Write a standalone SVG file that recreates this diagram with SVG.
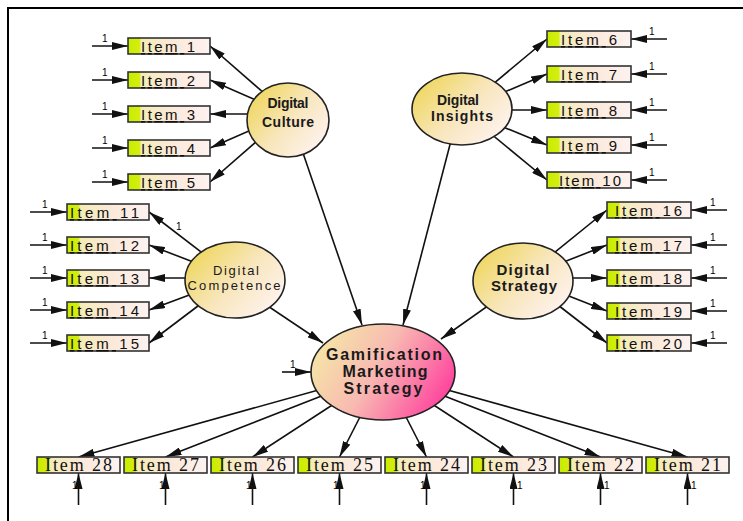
<svg xmlns="http://www.w3.org/2000/svg" width="743" height="521" viewBox="0 0 743 521">
<defs>
 <linearGradient id="gItem" x1="0" y1="0" x2="1" y2="0">
  <stop offset="0" stop-color="#c8ec00"/>
  <stop offset="0.14" stop-color="#d4ee10"/>
  <stop offset="0.16" stop-color="#f4ecb6"/>
  <stop offset="0.55" stop-color="#fbe9da"/>
  <stop offset="1" stop-color="#fdf2f0"/>
 </linearGradient>
 <linearGradient id="gLat" x1="0.05" y1="0.2" x2="0.95" y2="0.85">
  <stop offset="0" stop-color="#efd760"/>
  <stop offset="0.5" stop-color="#f8e6bc"/>
  <stop offset="1" stop-color="#fff3f1"/>
 </linearGradient>
 <linearGradient id="gGMS" x1="0" y1="0.3" x2="1" y2="0.7">
  <stop offset="0" stop-color="#f5e7a6"/>
  <stop offset="0.45" stop-color="#f8b9b2"/>
  <stop offset="1" stop-color="#ff3d9c"/>
 </linearGradient>
 <marker id="ah" viewBox="0 0 16 8" refX="16" refY="4" markerWidth="16" markerHeight="8" markerUnits="userSpaceOnUse" orient="auto">
  <path d="M0,0 L16,4 L0,8 z" fill="#111"/>
 </marker>
</defs>
<style>
 .item rect {fill:url(#gItem); stroke:#333; stroke-width:1.6}
 .it {font-family:"Liberation Sans",Arial,sans-serif; font-size:15px; fill:#111}
 .ib {font-family:"Liberation Serif","Times New Roman",serif; font-size:18px; fill:#111}
 .lat ellipse {fill:url(#gLat); stroke:#222; stroke-width:1.6}
 .gms ellipse {fill:url(#gGMS); stroke:#222; stroke-width:1.6}
 .lt {font-family:"Liberation Sans",Arial,sans-serif; font-weight:bold; fill:#1a1a1a; text-anchor:middle}
 .lt.reg {font-weight:normal}
 .one {font-family:"Liberation Sans",Arial,sans-serif; font-size:10px; fill:#000}
 .c line {stroke:#111; stroke-width:1.6; fill:none; marker-end:url(#ah)}
</style>
<rect x="8" y="8" width="760" height="540" fill="#fff" stroke="#000" stroke-width="2"/>

<g id="connectors" class="c">
 <line x1="288" y1="114" x2="210" y2="46"/>
 <line x1="288" y1="114" x2="210" y2="80"/>
 <line x1="288" y1="114" x2="210" y2="114"/>
 <line x1="288" y1="114" x2="210" y2="148"/>
 <line x1="288" y1="114" x2="210" y2="182"/>
 <line x1="462" y1="110" x2="547" y2="39"/>
 <line x1="462" y1="110" x2="547" y2="74"/>
 <line x1="462" y1="110" x2="547" y2="110"/>
 <line x1="462" y1="110" x2="547" y2="145"/>
 <line x1="462" y1="110" x2="547" y2="180"/>
 <line x1="235" y1="278" x2="149" y2="212"/>
 <line x1="235" y1="278" x2="149" y2="245"/>
 <line x1="235" y1="278" x2="149" y2="278"/>
 <line x1="235" y1="278" x2="149" y2="310"/>
 <line x1="235" y1="278" x2="149" y2="343"/>
 <line x1="523" y1="278" x2="607" y2="210"/>
 <line x1="523" y1="278" x2="607" y2="245"/>
 <line x1="523" y1="278" x2="607" y2="278"/>
 <line x1="523" y1="278" x2="607" y2="311"/>
 <line x1="523" y1="278" x2="607" y2="343"/>
 <line x1="292" y1="121" x2="362" y2="325"/>
 <line x1="459" y1="110" x2="403" y2="325"/>
 <line x1="235" y1="284" x2="323" y2="343"/>
 <line x1="523" y1="281" x2="441" y2="339"/>
 <line x1="383" y1="372" x2="78.5" y2="457"/>
 <line x1="383" y1="372" x2="165.5" y2="457"/>
 <line x1="383" y1="372" x2="252.5" y2="457"/>
 <line x1="383" y1="372" x2="339.5" y2="457"/>
 <line x1="383" y1="372" x2="426.5" y2="457"/>
 <line x1="383" y1="372" x2="513.5" y2="457"/>
 <line x1="383" y1="372" x2="600.5" y2="457"/>
 <line x1="383" y1="372" x2="687.5" y2="457"/>
 <line x1="92" y1="46" x2="128" y2="46"/>
 <line x1="92" y1="80" x2="128" y2="80"/>
 <line x1="92" y1="114" x2="128" y2="114"/>
 <line x1="92" y1="148" x2="128" y2="148"/>
 <line x1="92" y1="182" x2="128" y2="182"/>
 <line x1="667" y1="39" x2="631" y2="39"/>
 <line x1="667" y1="74" x2="631" y2="74"/>
 <line x1="667" y1="110" x2="631" y2="110"/>
 <line x1="667" y1="145" x2="631" y2="145"/>
 <line x1="667" y1="180" x2="631" y2="180"/>
 <line x1="30" y1="212" x2="67" y2="212"/>
 <line x1="30" y1="245" x2="67" y2="245"/>
 <line x1="30" y1="278" x2="67" y2="278"/>
 <line x1="30" y1="310" x2="67" y2="310"/>
 <line x1="30" y1="343" x2="67" y2="343"/>
 <line x1="727" y1="210" x2="691" y2="210"/>
 <line x1="727" y1="245" x2="691" y2="245"/>
 <line x1="727" y1="278" x2="691" y2="278"/>
 <line x1="727" y1="311" x2="691" y2="311"/>
 <line x1="727" y1="343" x2="691" y2="343"/>
 <line x1="282" y1="372" x2="311" y2="372"/>
 <line x1="78.5" y1="505" x2="78.5" y2="473"/>
 <line x1="165.5" y1="505" x2="165.5" y2="473"/>
 <line x1="252.5" y1="505" x2="252.5" y2="473"/>
 <line x1="339.5" y1="505" x2="339.5" y2="473"/>
 <line x1="426.5" y1="505" x2="426.5" y2="473"/>
 <line x1="513.5" y1="505" x2="513.5" y2="473"/>
 <line x1="600.5" y1="505" x2="600.5" y2="473"/>
 <line x1="687.5" y1="505" x2="687.5" y2="473"/>
</g>

<g id="weights" class="one">
 <text x="102" y="42">1</text><text x="102" y="76">1</text><text x="102" y="110">1</text><text x="102" y="144">1</text><text x="102" y="178">1</text>
 <text x="649" y="35">1</text><text x="649" y="70">1</text><text x="649" y="106">1</text><text x="649" y="141">1</text><text x="649" y="176">1</text>
 <text x="42" y="208">1</text><text x="42" y="241">1</text><text x="42" y="274">1</text><text x="42" y="306">1</text><text x="42" y="339">1</text>
 <text x="710" y="206">1</text><text x="710" y="241">1</text><text x="710" y="274">1</text><text x="710" y="307">1</text><text x="710" y="339">1</text>
 <text x="176" y="230">1</text>
 <text x="290" y="368">1</text>
 <text x="72" y="489">1</text><text x="159" y="489">1</text><text x="246" y="489">1</text><text x="333" y="489">1</text><text x="420" y="489">1</text>
 <text x="517" y="489">1</text><text x="604" y="489">1</text><text x="691" y="489">1</text>
</g>

<g id="item1" class="item"><rect x="128" y="38" width="82" height="16"/><text class="it" x="141" y="52" textLength="54" lengthAdjust="spacing"><tspan text-decoration="underline">Item </tspan>1</text></g>
<g id="item2" class="item"><rect x="128" y="72" width="82" height="16"/><text class="it" x="141" y="86" textLength="54" lengthAdjust="spacing"><tspan text-decoration="underline">Item </tspan>2</text></g>
<g id="item3" class="item"><rect x="128" y="106" width="82" height="16"/><text class="it" x="141" y="120" textLength="54" lengthAdjust="spacing"><tspan text-decoration="underline">Item </tspan>3</text></g>
<g id="item4" class="item"><rect x="128" y="140" width="82" height="16"/><text class="it" x="141" y="154" textLength="54" lengthAdjust="spacing"><tspan text-decoration="underline">Item </tspan>4</text></g>
<g id="item5" class="item"><rect x="128" y="174" width="82" height="16"/><text class="it" x="141" y="188" textLength="54" lengthAdjust="spacing"><tspan text-decoration="underline">Item </tspan>5</text></g>

<g id="item6" class="item"><rect x="547" y="31" width="84" height="16"/><text class="it" x="561" y="45" textLength="56" lengthAdjust="spacing"><tspan text-decoration="underline">Item </tspan>6</text></g>
<g id="item7" class="item"><rect x="547" y="66" width="84" height="16"/><text class="it" x="561" y="80" textLength="56" lengthAdjust="spacing"><tspan text-decoration="underline">Item </tspan>7</text></g>
<g id="item8" class="item"><rect x="547" y="102" width="84" height="16"/><text class="it" x="561" y="116" textLength="56" lengthAdjust="spacing"><tspan text-decoration="underline">Item </tspan>8</text></g>
<g id="item9" class="item"><rect x="547" y="137" width="84" height="16"/><text class="it" x="561" y="151" textLength="56" lengthAdjust="spacing"><tspan text-decoration="underline">Item </tspan>9</text></g>
<g id="item10" class="item"><rect x="547" y="172" width="84" height="16"/><text class="it" x="559" y="186" textLength="62" lengthAdjust="spacing"><tspan text-decoration="underline">Item </tspan>10</text></g>

<g id="item11" class="item"><rect x="67" y="204" width="82" height="16"/><text class="it" x="70" y="218" textLength="69" lengthAdjust="spacing"><tspan text-decoration="underline">Item </tspan>11</text></g>
<g id="item12" class="item"><rect x="67" y="237" width="82" height="16"/><text class="it" x="70" y="251" textLength="69" lengthAdjust="spacing"><tspan text-decoration="underline">Item </tspan>12</text></g>
<g id="item13" class="item"><rect x="67" y="270" width="82" height="16"/><text class="it" x="70" y="284" textLength="69" lengthAdjust="spacing"><tspan text-decoration="underline">Item </tspan>13</text></g>
<g id="item14" class="item"><rect x="67" y="302" width="82" height="16"/><text class="it" x="70" y="316" textLength="69" lengthAdjust="spacing"><tspan text-decoration="underline">Item </tspan>14</text></g>
<g id="item15" class="item"><rect x="67" y="335" width="82" height="16"/><text class="it" x="70" y="349" textLength="69" lengthAdjust="spacing"><tspan text-decoration="underline">Item </tspan>15</text></g>

<g id="item16" class="item"><rect x="607" y="202" width="84" height="16"/><text class="it" x="615" y="216" textLength="67" lengthAdjust="spacing"><tspan text-decoration="underline">Item </tspan>16</text></g>
<g id="item17" class="item"><rect x="607" y="237" width="84" height="16"/><text class="it" x="615" y="251" textLength="67" lengthAdjust="spacing"><tspan text-decoration="underline">Item </tspan>17</text></g>
<g id="item18" class="item"><rect x="607" y="270" width="84" height="16"/><text class="it" x="615" y="284" textLength="67" lengthAdjust="spacing"><tspan text-decoration="underline">Item </tspan>18</text></g>
<g id="item19" class="item"><rect x="607" y="303" width="84" height="16"/><text class="it" x="615" y="317" textLength="67" lengthAdjust="spacing"><tspan text-decoration="underline">Item </tspan>19</text></g>
<g id="item20" class="item"><rect x="607" y="335" width="84" height="16"/><text class="it" x="615" y="349" textLength="67" lengthAdjust="spacing"><tspan text-decoration="underline">Item </tspan>20</text></g>

<g id="item28" class="item"><rect x="37" y="457" width="83" height="16"/><text class="ib" x="45" y="471" textLength="67" lengthAdjust="spacing">Item 28</text></g>
<g id="item27" class="item"><rect x="124" y="457" width="83" height="16"/><text class="ib" x="132" y="471" textLength="67" lengthAdjust="spacing">Item 27</text></g>
<g id="item26" class="item"><rect x="211" y="457" width="83" height="16"/><text class="ib" x="219" y="471" textLength="67" lengthAdjust="spacing">Item 26</text></g>
<g id="item25" class="item"><rect x="298" y="457" width="83" height="16"/><text class="ib" x="306" y="471" textLength="67" lengthAdjust="spacing">Item 25</text></g>
<g id="item24" class="item"><rect x="385" y="457" width="83" height="16"/><text class="ib" x="393" y="471" textLength="67" lengthAdjust="spacing">Item 24</text></g>
<g id="item23" class="item"><rect x="472" y="457" width="83" height="16"/><text class="ib" x="480" y="471" textLength="67" lengthAdjust="spacing">Item 23</text></g>
<g id="item22" class="item"><rect x="559" y="457" width="83" height="16"/><text class="ib" x="567" y="471" textLength="67" lengthAdjust="spacing">Item 22</text></g>
<g id="item21" class="item"><rect x="646" y="457" width="83" height="16"/><text class="ib" x="654" y="471" textLength="67" lengthAdjust="spacing">Item 21</text></g>

<g id="digital-culture" class="lat">
 <ellipse cx="288" cy="120" rx="41" ry="37"/>
 <text class="lt" x="288" y="108" font-size="14" textLength="41" lengthAdjust="spacing">Digital</text>
 <text class="lt" x="288" y="127" font-size="14" textLength="52" lengthAdjust="spacing">Culture</text>
</g>
<g id="digital-insights" class="lat">
 <ellipse cx="462" cy="109" rx="50" ry="36"/>
 <text class="lt" x="458" y="105" font-size="14" textLength="42" lengthAdjust="spacing">Digital</text>
 <text class="lt" x="462" y="121" font-size="14" textLength="62" lengthAdjust="spacing">Insights</text>
</g>
<g id="digital-competence" class="lat">
 <ellipse cx="235" cy="280" rx="50" ry="38"/>
 <text class="lt reg" x="236" y="275" font-size="13" textLength="46" lengthAdjust="spacing">Digital</text>
 <text class="lt reg" x="234" y="290" font-size="13" textLength="93" lengthAdjust="spacing">Competence</text>
</g>
<g id="digital-strategy" class="lat">
 <ellipse cx="523" cy="281" rx="50" ry="38"/>
 <text class="lt" x="523" y="275" font-size="15" textLength="53" lengthAdjust="spacing">Digital</text>
 <text class="lt" x="524" y="291" font-size="15" textLength="66" lengthAdjust="spacing">Strategy</text>
</g>
<g id="gamification-marketing-strategy" class="gms">
 <ellipse cx="383" cy="372" rx="72" ry="48"/>
 <text class="lt" x="384" y="360" font-size="16" textLength="116" lengthAdjust="spacing">Gamification</text>
 <text class="lt" x="385" y="377" font-size="16" textLength="85" lengthAdjust="spacing">Marketing</text>
 <text class="lt" x="383" y="394" font-size="16" textLength="79" lengthAdjust="spacing">Strategy</text>
</g>
</svg>
